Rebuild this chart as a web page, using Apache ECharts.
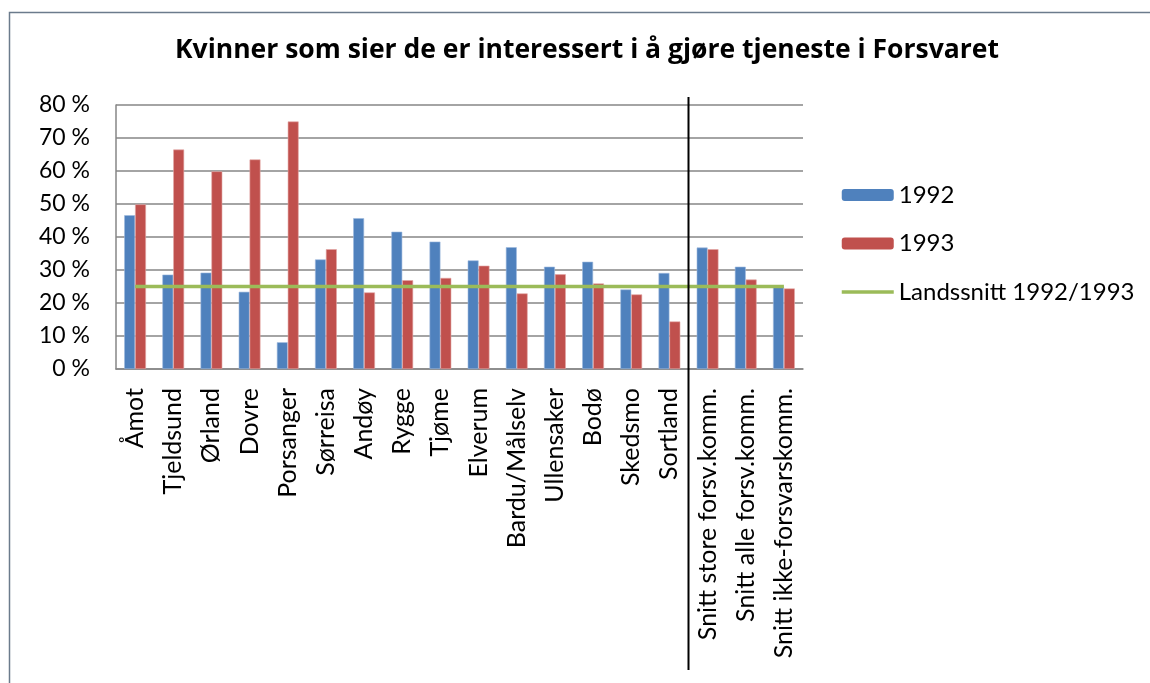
<!DOCTYPE html>
<html>
<head>
<meta charset="utf-8">
<script src="https://cdn.jsdelivr.net/npm/echarts@6/dist/echarts.min.js"></script>
<style>
html,body{margin:0;padding:0;background:#fff;overflow:hidden;width:1150px;height:683px;}
#c{width:1174px;height:683px;}
</style>
</head>
<body>
<div id="c"></div>
<script>
const titleText = 'Kvinner som sier de er interessert i å gjøre tjeneste i Forsvaret';
const categories = ['Åmot','Tjeldsund','Ørland','Dovre','Porsanger','Sørreisa','Andøy','Rygge','Tjøme','Elverum','Bardu/Målselv','Ullensaker','Bodø','Skedsmo','Sortland','Snitt store forsv.komm.','Snitt alle forsv.komm.','Snitt ikke-forsvarskomm.'];
const values1992 = [46.6, 28.6, 29.2, 23.4, 8.1, 33.2, 45.7, 41.6, 38.6, 32.9, 36.9, 31.0, 32.5, 24.1, 29.1, 36.8, 31.0, 25.0];
const values1993 = [49.9, 66.5, 59.9, 63.5, 75.0, 36.3, 23.2, 26.9, 27.6, 31.3, 22.9, 28.7, 25.9, 22.6, 14.4, 36.3, 27.1, 24.4];
const landssnitt = [25, 25, 25, 25, 25, 25, 25, 25, 25, 25, 25, 25, 25, 25, 25, 25, 25, 25];
const seriesNames = ['1992', '1993', 'Landssnitt 1992/1993'];
const yTicks = {min: 0, max: 80, interval: 10};
const dividerAfterIndex = 14; // divider between Sortland and the averages

const FONT = 'Lato';
const chart = echarts.init(document.getElementById('c'), null, {renderer: 'canvas'});
chart.setOption({
  animation: false,
  backgroundColor: '#fff',
  title: {
    text: titleText,
    left: 'center',
    top: 37,
    padding: 0,
    textStyle: {fontFamily: 'Open Sans', fontWeight: 'bold', fontSize: 26.5, color: '#000'}
  },
  legend: {
    orient: 'vertical',
    left: 840,
    top: 183,
    padding: 0,
    itemWidth: 52,
    itemHeight: 12,
    itemGap: 24.5,
    itemStyle: {borderWidth: 0},
    data: [seriesNames[0], seriesNames[1],
      {name: seriesNames[2], itemStyle: {opacity: 0}, lineStyle: {width: 3.5, color: '#9BBB59'}}],
    textStyle: {fontFamily: FONT, fontSize: 24, color: '#000', lineHeight: 24}
  },
  grid: {left: 116, top: 105, width: 687, height: 264, containLabel: false},
  xAxis: {
    type: 'category',
    data: categories,
    axisLine: {lineStyle: {color: '#868686', width: 1.5}},
    axisTick: {show: false},
    axisLabel: {rotate: 90, margin: 19, interval: 0, fontFamily: FONT, fontSize: 25, color: '#000'}
  },
  yAxis: {
    type: 'value',
    min: yTicks.min, max: yTicks.max, interval: yTicks.interval,
    axisLine: {show: true, lineStyle: {color: '#868686', width: 1.5}},
    axisTick: {show: false},
    splitLine: {lineStyle: {color: '#868686', width: 1.5}},
    axisLabel: {formatter: '{value} %', margin: 26, fontFamily: FONT, fontSize: 23, color: '#000'}
  },
  series: [
    {name: seriesNames[0], type: 'bar', data: values1992, barGap: '0%', barCategoryGap: '43%',
     itemStyle: {color: '#4F81BD', borderColor: '#9DB9DD', borderWidth: 0.6}},
    {name: seriesNames[1], type: 'bar', data: values1993, barGap: '0%', barCategoryGap: '43%',
     itemStyle: {color: '#C0504D', borderColor: '#E3A6A4', borderWidth: 0.6}},
    {name: seriesNames[2], type: 'line', data: landssnitt, symbol: 'none', z: 5,
     lineStyle: {color: '#9BBB59', width: 3.5}, itemStyle: {color: '#9BBB59'}}
  ]
});

// divider line between the municipalities and the averages, placed from the axis scale
const xa = chart.convertToPixel({xAxisIndex: 0}, dividerAfterIndex);
const xb = chart.convertToPixel({xAxisIndex: 0}, dividerAfterIndex + 1);
const xDiv = (xa + xb) / 2;
const yTop = chart.convertToPixel({yAxisIndex: 0}, yTicks.max);
chart.setOption({
  graphic: [
    {type: 'line', shape: {x1: xDiv, y1: yTop - 8, x2: xDiv, y2: 670}, style: {stroke: '#000', lineWidth: 2}, z: 10},
    {type: 'rect', shape: {x: 9.5, y: 12.5, width: 1155, height: 700}, style: {fill: null, stroke: '#6b7b8c', lineWidth: 1.5}, z: 10, silent: true}
  ]
});
</script>
</body>
</html>
